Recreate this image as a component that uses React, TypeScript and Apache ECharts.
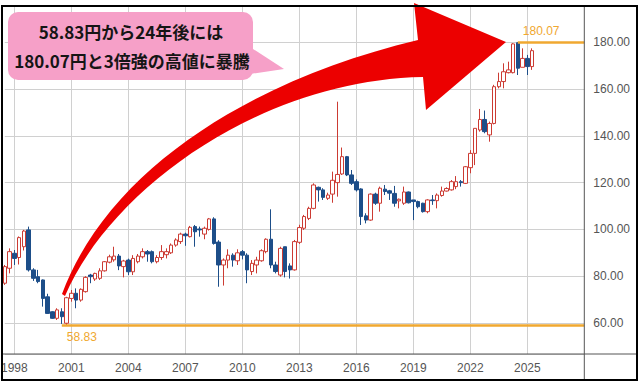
import React, { useEffect, useRef } from 'react';
import * as echarts from 'echarts';

// Quarterly categories 1997Q3 .. 2028Q1
const quarters: string[] = [];
for (let y = 1997; y <= 2028; y++) {
  for (let q = 1; q <= 4; q++) {
    if (y === 1997 && q < 3) continue;
    if (y === 2028 && q > 1) continue;
    quarters.push(`${y}Q${q}`);
  }
}

const opens = [
  77.0, 83.4, 89.8, 88.0, 92.6, 99.8, 82.7, 79.8, 78.4, 71.2,
  64.8, 62.0, 64.8, 59.9, 70.5, 72.7, 69.8, 73.4, 80.5, 78.8,
  79.1, 82.3, 86.0, 87.0, 88.6, 84.1, 86.9, 81.9, 86.2, 88.3,
  90.5, 90.5, 86.2, 88.0, 89.2, 90.0, 93.3, 94.8, 98.0, 96.9,
  101.2, 100.2, 98.0, 100.0, 104.5, 94.6, 84.8, 86.9, 89.0, 86.6,
  90.5, 89.0, 82.0, 84.8, 86.6, 90.5, 95.8, 84.8, 80.5, 92.6,
  84.4, 82.7, 94.5, 100.5, 104.7, 109.0, 118.0, 116.9, 113.3, 115.1,
  120.0, 123.7, 131.1, 123.3, 120.4, 117.3, 105.8, 104.0, 115.1, 111.2,
  117.2, 116.5, 115.4, 112.2, 111.2, 116.0, 112.6, 111.9, 111.2, 107.6,
  112.6, 112.3, 114.5, 116.4, 116.9, 118.3, 120.4, 119.7, 126.4, 132.5,
  142.5, 147.0, 140.4, 145.3, 161.0, 163.2, 167.0, 167.0, 179.8, 169.3,
  173.1, 169.6,
];
const closes = [
  84.1, 90.5, 87.6, 96.5, 99.3, 82.7, 79.1, 77.7, 70.5, 64.1,
  62.0, 65.6, 62.7, 70.8, 72.7, 69.8, 74.4, 79.5, 79.8, 81.2,
  82.3, 86.2, 88.3, 88.6, 84.4, 86.5, 81.9, 87.6, 88.6, 90.5,
  89.5, 86.2, 88.0, 90.5, 90.5, 93.3, 95.5, 98.0, 97.3, 100.9,
  99.0, 99.8, 100.5, 104.5, 94.0, 84.8, 86.9, 89.0, 86.9, 90.0,
  89.0, 82.7, 85.5, 86.9, 90.9, 95.8, 84.8, 82.0, 91.9, 82.0,
  82.7, 94.8, 100.8, 105.5, 109.0, 119.0, 116.9, 113.7, 114.7, 121.0,
  123.5, 131.1, 123.3, 119.7, 116.9, 105.5, 104.0, 115.1, 111.2, 117.6,
  116.2, 115.5, 111.2, 112.9, 116.0, 111.4, 111.9, 109.7, 107.6, 112.6,
  112.3, 114.7, 116.4, 117.5, 120.4, 120.4, 120.0, 126.8, 132.5, 143.2,
  147.0, 141.8, 145.3, 161.0, 163.2, 167.4, 168.2, 179.3, 168.9, 173.1,
  169.6, 176.4,
];
const lows = [
  76.3, 81.2, 84.8, 85.0, 91.0, 82.0, 78.0, 77.0, 67.0, 64.0,
  61.8, 61.3, 59.6, 58.83, 69.1, 66.3, 69.1, 73.0, 77.0, 78.0,
  78.4, 82.0, 85.5, 86.2, 82.6, 79.5, 80.5, 80.5, 85.5, 87.6,
  86.2, 85.5, 85.5, 87.0, 87.6, 89.5, 92.6, 93.8, 93.0, 96.6,
  92.6, 96.9, 95.8, 99.5, 93.5, 75.5, 76.0, 83.4, 84.1, 84.8,
  87.2, 77.0, 80.5, 81.2, 86.2, 89.8, 83.4, 81.2, 79.8, 79.5,
  79.0, 82.4, 93.8, 99.8, 104.0, 108.6, 111.9, 112.6, 112.6, 111.4,
  114.0, 123.3, 122.8, 119.0, 116.2, 101.9, 102.6, 103.7, 110.5, 107.6,
  114.7, 112.6, 109.7, 109.0, 110.5, 111.1, 104.0, 109.0, 107.2, 106.9,
  110.5, 109.0, 114.0, 116.2, 116.6, 117.2, 118.3, 119.4, 124.0, 127.5,
  141.8, 141.1, 137.5, 144.9, 160.3, 160.3, 166.7, 166.7, 166.0, 169.3,
  166.0, 168.2,
];
const highs = [
  84.8, 91.9, 91.2, 97.0, 99.8, 101.2, 83.4, 82.7, 78.6, 72.5,
  65.0, 66.3, 66.3, 71.2, 74.1, 74.8, 74.8, 80.0, 81.0, 81.5,
  83.4, 86.5, 89.2, 92.6, 89.5, 87.0, 87.5, 89.0, 89.5, 91.9,
  91.2, 91.0, 89.0, 93.3, 91.9, 94.0, 96.2, 98.6, 98.6, 101.5,
  101.9, 101.2, 101.2, 104.9, 105.2, 95.4, 87.6, 91.5, 89.8, 91.5,
  91.2, 89.8, 86.9, 88.3, 91.5, 96.2, 108.6, 86.2, 92.6, 92.6,
  85.5, 95.5, 102.0, 106.2, 109.7, 119.7, 118.3, 117.6, 115.7, 124.7,
  154.6, 135.0, 131.4, 125.4, 121.4, 117.6, 106.9, 115.4, 115.7, 118.3,
  119.0, 116.9, 118.6, 113.2, 118.3, 116.2, 112.6, 112.3, 111.4, 112.9,
  114.7, 115.4, 118.3, 118.0, 121.1, 122.8, 121.1, 127.1, 133.9, 143.2,
  151.5, 150.8, 146.1, 161.8, 167.0, 171.0, 171.7, 179.6, 180.07, 177.4,
  174.6, 177.4,
];

const yTicks = [60, 80, 100, 120, 140, 160, 180];
const yearLabels = ['1998', '2001', '2004', '2007', '2010', '2013', '2016', '2019', '2022', '2025'];
const lowValue = 58.83;
const highValue = 180.07;
const lowQuarter = '2000Q3';
const highQuarter = '2024Q3';
const calloutLines = ['58.83円から24年後には', '180.07円と3倍強の高値に暴騰'];

const ARROW_D =
  'M 62 294 C 108 170 250 80 418 40 L 414 3 L 506 42 L 426 110 L 423 77 C 260 80 110 190 65 296 Z';
echarts.graphic.registerShape('bigArrow', echarts.graphic.extendPath(ARROW_D, {}) as any);

const W = 640;
const H = 382;
const GRID_LEFT = 4.8;
const GRID_RIGHT = 55.7;
const GRID_TOP = 6;
const GRID_BOTTOM = 28;
const AXIS_X = W - GRID_RIGHT;
const AXIS_Y = H - GRID_BOTTOM;

const ORANGE = '#f0a830';
const labelFont = "'Liberation Sans', Arial, sans-serif";

function isYearTick(_i: number, v: string) {
  return v.endsWith('Q1') && yearLabels.includes(v.slice(0, 4));
}

export default function App() {
  const ref = useRef<HTMLDivElement>(null);
  useEffect(() => {
    if (!ref.current) return;
    const chart = echarts.init(ref.current, undefined, { renderer: 'svg' });
    const last = quarters[quarters.length - 1];
    const data = opens.map((o, i) => [o, closes[i], lows[i], highs[i]]);
    chart.setOption({
      animation: false,
      backgroundColor: '#ffffff',
      grid: {
        left: GRID_LEFT,
        right: GRID_RIGHT,
        top: GRID_TOP,
        bottom: GRID_BOTTOM,
        containLabel: false,
        outerBoundsMode: 'none',
      },
      xAxis: {
        type: 'category',
        data: quarters,
        boundaryGap: false,
        axisLine: { show: false },
        axisTick: { show: false },
        axisLabel: {
          interval: isYearTick,
          formatter: (v: string) => v.slice(0, 4),
          color: '#555',
          fontSize: 12,
          fontFamily: labelFont,
          margin: 8,
          hideOverlap: false,
        },
        splitLine: {
          show: true,
          interval: isYearTick,
          lineStyle: { color: '#d0d0d0', width: 1 },
        },
      },
      yAxis: {
        type: 'value',
        position: 'right',
        min: 46.75,
        max: 195.5,
        minInterval: 20,
        maxInterval: 20,
        scale: true,
        axisLine: { show: false },
        axisTick: { show: false },
        axisLabel: {
          formatter: (v: number) => (yTicks.includes(Math.round(v * 100) / 100) ? v.toFixed(2) : ''),
          color: '#555',
          fontSize: 12,
          fontFamily: labelFont,
          margin: 9,
        },
        splitLine: { show: true, lineStyle: { color: '#d0d0d0', width: 1 } },
      },
      series: [
        {
          type: 'candlestick',
          data,
          barWidth: 4,
          clip: false,
          itemStyle: {
            color: '#ffffff',
            color0: '#1d4e89',
            borderColor: '#cc3b33',
            borderColor0: '#1d4e89',
            borderWidth: 1,
          },
          markLine: {
            silent: true,
            symbol: ['none', 'none'],
            animation: false,
            lineStyle: { color: ORANGE, width: 2.5, type: 'solid' },
            label: { color: ORANGE, fontSize: 12, fontFamily: labelFont, distance: 5 },
            emphasis: { disabled: true },
            data: [
              [
                {
                  coord: [lowQuarter, lowValue],
                  label: { formatter: lowValue.toFixed(2), position: 'insideStartBottom', color: ORANGE },
                },
                { coord: [last, lowValue] },
              ],
              [
                {
                  coord: [highQuarter, highValue],
                  label: { formatter: highValue.toFixed(2), position: 'insideStartTop', color: ORANGE },
                },
                { coord: [last, highValue] },
              ],
            ],
          },
        },
      ],
      graphic: [
        {
          type: 'line',
          z: 90,
          shape: { x1: 2, y1: AXIS_Y, x2: 637, y2: AXIS_Y },
          style: { stroke: '#555', lineWidth: 1 },
        },
        {
          type: 'line',
          z: 90,
          shape: { x1: AXIS_X, y1: GRID_TOP, x2: AXIS_X, y2: 380 },
          style: { stroke: '#555', lineWidth: 1 },
        },
        {
          type: 'bigArrow',
          x: 0,
          y: 0,
          z: 100,
          style: { fill: '#ec0000' },
        },
        {
          type: 'rect',
          z: 110,
          shape: { x: 8, y: 12, width: 245, height: 68, r: 10 },
          style: { fill: '#f6a0c8' },
        },
        {
          type: 'polygon',
          z: 110,
          shape: { points: [[250, 47], [284, 69], [250, 74]] },
          style: { fill: '#f6a0c8' },
        },
        {
          type: 'text',
          z: 120,
          x: 131,
          y: 31,
          style: {
            text: calloutLines[0],
            fill: '#151515',
            font: "bold 17px 'Noto Sans CJK JP', sans-serif",
            textAlign: 'center',
            textVerticalAlign: 'middle',
          },
        },
        {
          type: 'text',
          z: 120,
          x: 132,
          y: 60,
          style: {
            text: calloutLines[1],
            fill: '#151515',
            font: "bold 17px 'Noto Sans CJK JP', sans-serif",
            textAlign: 'center',
            textVerticalAlign: 'middle',
          },
        },
        {
          type: 'rect',
          z: 130,
          shape: { x: 2, y: 6, width: 635, height: 374 },
          style: { fill: 'none', stroke: '#000', lineWidth: 2 },
        },
      ],
    });
    return () => chart.dispose();
  }, []);
  return (
    <div
      ref={ref}
      style={{ position: 'fixed', left: 0, top: 0, width: W, height: H, background: '#fff' }}
    />
  );
}
